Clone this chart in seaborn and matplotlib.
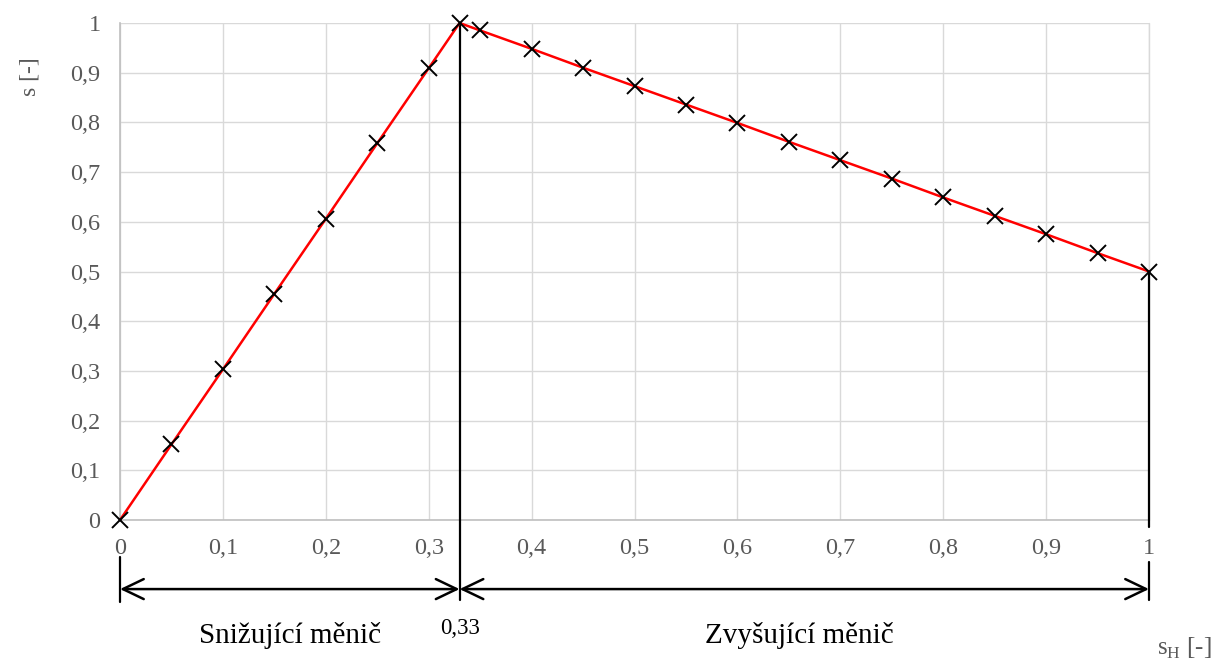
import matplotlib
matplotlib.use("Agg")
import matplotlib.pyplot as plt
import seaborn as sns
import pandas as pd

# Relative switching parameter s_H and resulting ratio s
s_h = [0.0, 0.05, 0.10, 0.15, 0.20, 0.25, 0.30, 0.33, 0.35, 0.40, 0.45,
       0.50, 0.55, 0.60, 0.65, 0.70, 0.75, 0.80, 0.85, 0.90, 0.95, 1.0]
s_val = [0.0, 0.152, 0.303, 0.455, 0.606, 0.758, 0.909, 1.0, 0.985, 0.948, 0.910,
         0.873, 0.836, 0.799, 0.761, 0.724, 0.687, 0.649, 0.612, 0.575, 0.537, 0.5]

x_ticks = [0, 0.1, 0.2, 0.3, 0.4, 0.5, 0.6, 0.7, 0.8, 0.9, 1.0]
x_tick_labels = ["0", "0,1", "0,2", "0,3", "0,4", "0,5", "0,6", "0,7", "0,8", "0,9", "1"]
y_ticks = [0, 0.1, 0.2, 0.3, 0.4, 0.5, 0.6, 0.7, 0.8, 0.9, 1.0]
y_tick_labels = ["0", "0,1", "0,2", "0,3", "0,4", "0,5", "0,6", "0,7", "0,8", "0,9", "1"]

boundary = 0.33
boundary_label = "0,33"
region_labels = ["Snižující měnič", "Zvyšující měnič"]

sns.set_theme(style="whitegrid")
plt.rcParams["font.family"] = ["Liberation Serif", "DejaVu Serif"]

df = pd.DataFrame({"sH": s_h, "s": s_val})

fig = plt.figure(figsize=(12.16, 6.6), dpi=100)
ax = fig.add_axes([120 / 1216, 1 - 520 / 660, 1029 / 1216, 497 / 660])

sns.lineplot(data=df, x="sH", y="s", ax=ax, color="#ff0000", linewidth=1.8,
             marker="x", markersize=12, markeredgecolor="black",
             markeredgewidth=1.4, zorder=4, clip_on=False)

ax.set_xlim(0, 1)
ax.set_ylim(0, 1)
ax.set_xticks(x_ticks)
ax.set_xticklabels(x_tick_labels)
ax.set_yticks(y_ticks)
ax.set_yticklabels(y_tick_labels)
ax.tick_params(axis="both", length=0, labelsize=17.5, labelcolor="#595959")
ax.tick_params(axis="x", pad=13)
ax.tick_params(axis="y", pad=14)
ax.grid(True, color="#d9d9d9", linewidth=1.0)
ax.set_xlabel("")
ax.set_ylabel("")

for side in ["top", "right"]:
    ax.spines[side].set_visible(False)
for side in ["left", "bottom"]:
    ax.spines[side].set_color("#bfbfbf")
    ax.spines[side].set_linewidth(1.2)
    ax.spines[side].set_zorder(1)

# right-edge grid line
ax.plot([1, 1], [0, 1], color="#d9d9d9", lw=1.0, zorder=1, clip_on=False)

# vertical markers
line_kw = dict(color="black", lw=1.6, clip_on=False, zorder=3)
ax.plot([boundary, boundary], [1.0, -0.161], **line_kw)
ax.plot([1, 1], [s_val[-1], -0.014], **line_kw)
ax.plot([1, 1], [-0.085, -0.161], **line_kw)
ax.plot([0, 0], [-0.075, -0.165], **line_kw)

# double-headed range arrows
arrow_y = -0.139
arrow_kw = dict(arrowstyle="<->,head_length=0.75,head_width=0.36",
                color="black", lw=1.8, shrinkA=0, shrinkB=0,
                mutation_scale=20)
ax.annotate("", xy=(0, arrow_y), xytext=(boundary, arrow_y),
            xycoords="data", arrowprops=arrow_kw, annotation_clip=False)
ax.annotate("", xy=(boundary, arrow_y), xytext=(1, arrow_y),
            xycoords="data", arrowprops=arrow_kw, annotation_clip=False)

ax.text(boundary, -0.219, boundary_label, ha="center", va="center",
        fontsize=16.5, color="black", clip_on=False)
ax.text(0.165, -0.232, region_labels[0], ha="center", va="center",
        fontsize=21, color="black", clip_on=False)
ax.text(0.66, -0.232, region_labels[1], ha="center", va="center",
        fontsize=21, color="black", clip_on=False)

# axis titles
fig.text(30 / 1216, 1 - 77 / 660, "s [-]", rotation=90, ha="center",
         va="center", fontsize=17, color="#595959")
fig.text(1184 / 1216, 1 - 648 / 660, r"s$_\mathregular{H}$ [-]", ha="center",
         va="center", fontsize=18, color="#595959")

fig.savefig("out.png", dpi=100)
